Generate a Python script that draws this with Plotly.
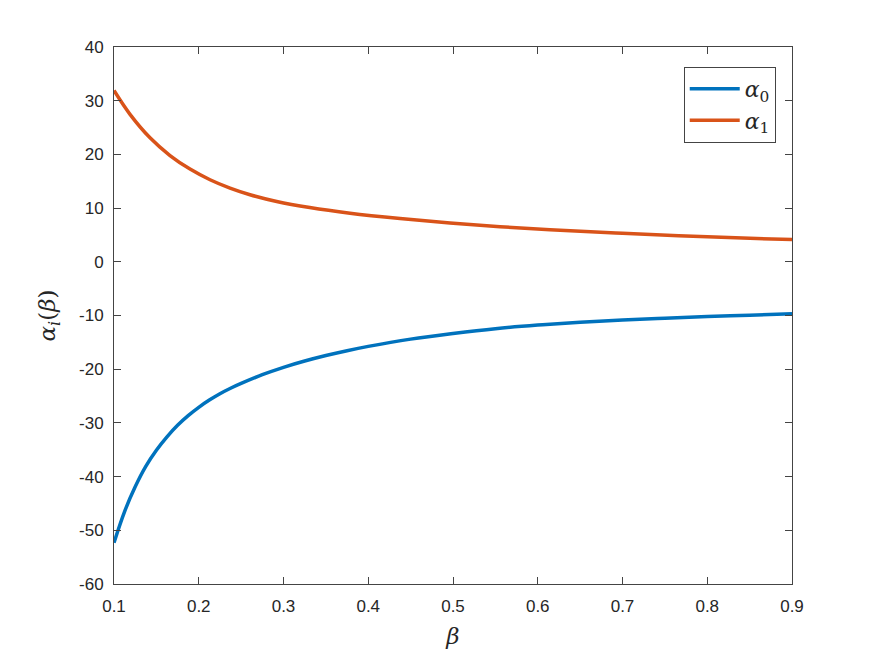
import plotly.graph_objects as go

beta0 = [0.1, 0.1125, 0.125, 0.1375, 0.15, 0.1625, 0.175, 0.1875, 0.2, 0.2125, 0.225,
         0.2375, 0.25, 0.275, 0.3, 0.325, 0.35, 0.375, 0.4, 0.45, 0.5, 0.55, 0.6,
         0.65, 0.7, 0.75, 0.8, 0.85, 0.9]
alpha0 = [-52.3, -46.5, -41.9, -38.1, -35.1, -32.6, -30.45, -28.65, -27.1, -25.75, -24.57,
          -23.55, -22.65, -21.025, -19.65, -18.475, -17.45, -16.55, -15.75, -14.4, -13.35,
          -12.45, -11.78, -11.25, -10.85, -10.5, -10.2, -9.935, -9.695]

beta1 = [0.1, 0.1189, 0.1425, 0.1661, 0.1897, 0.2133, 0.2369, 0.2605, 0.292, 0.331,
         0.3785, 0.4375, 0.4965, 0.5555, 0.6145, 0.7, 0.8, 0.9]
alpha1 = [31.9, 27.46, 23.09, 19.79, 17.26, 15.28, 13.72, 12.49, 11.23, 10.1,
          9.05, 8.05, 7.22, 6.54, 5.98, 5.3, 4.65, 4.13]

xticks = [0.1, 0.2, 0.3, 0.4, 0.5, 0.6, 0.7, 0.8, 0.9]
xticklabels = ["0.1", "0.2", "0.3", "0.4", "0.5", "0.6", "0.7", "0.8", "0.9"]
yticks = [-60, -50, -40, -30, -20, -10, 0, 10, 20, 30, 40]
yticklabels = ["-60", "-50", "-40", "-30", "-20", "-10", "0", "10", "20", "30", "40"]

fig = go.Figure()
fig.add_trace(go.Scatter(x=beta0, y=alpha0, mode="lines",
                         line=dict(color="#0072BD", width=3.5, shape="spline", smoothing=1.0),
                         name="<i>α</i><sub>0</sub>"))
fig.add_trace(go.Scatter(x=beta1, y=alpha1, mode="lines",
                         line=dict(color="#D95319", width=3.5, shape="spline", smoothing=1.0),
                         name="<i>α</i><sub>1</sub>"))

axis_common = dict(showline=True, linecolor="#444444", linewidth=1, mirror="ticks",
                   ticks="inside", ticklen=7, tickcolor="#444444", showgrid=False,
                   zeroline=False, tickfont=dict(family="Liberation Sans", size=17, color="#262626"))

fig.update_layout(
    width=875, height=657,
    margin=dict(l=114, r=83, t=47, b=73),
    paper_bgcolor="white", plot_bgcolor="white",
    xaxis=dict(range=[0.1, 0.9], tickvals=xticks, ticktext=xticklabels, ticklabelstandoff=7,
               title=dict(text="<i>β</i>", font=dict(family="DejaVu Serif", size=23, color="#262626"),
                          standoff=12),
               **axis_common),
    yaxis=dict(range=[-60, 40], tickvals=yticks, ticktext=yticklabels, ticklabelstandoff=6,
               title=dict(text="<i>α<sub>i</sub></i>(<i>β</i>)",
                          font=dict(family="DejaVu Serif", size=23, color="#262626"), standoff=16),
               **axis_common),
    legend=dict(x=0.976, y=0.963, xanchor="right", yanchor="top",
                bgcolor="white", bordercolor="#444444", borderwidth=1,
                font=dict(family="DejaVu Serif", size=22, color="#262626"),
                itemwidth=50, tracegroupgap=0),
    showlegend=True,
)

fig.write_html("out.html")
